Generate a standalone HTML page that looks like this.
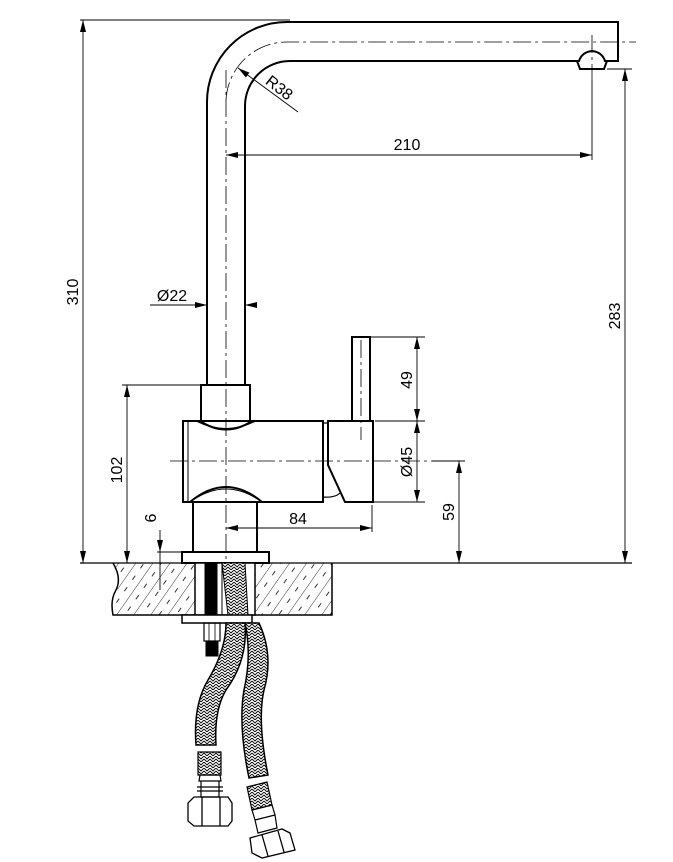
<!DOCTYPE html>
<html><head><meta charset="utf-8"><style>html,body{margin:0;padding:0;background:#fff}svg{display:block}</style></head><body>
<svg width="673" height="862" viewBox="0 0 673 862" xmlns="http://www.w3.org/2000/svg" font-family="Liberation Sans, sans-serif" font-size="16">
<defs>
<pattern id="hatch" width="14" height="14" patternUnits="userSpaceOnUse" patternTransform="rotate(35)">
<line x1="0" y1="0" x2="0" y2="14" stroke="#000" stroke-width="0.8"/>
<line x1="7" y1="2" x2="7" y2="7" stroke="#000" stroke-width="0.8"/>
</pattern>
<pattern id="braid" width="6" height="6" patternUnits="userSpaceOnUse">
<rect width="6" height="6" fill="#fff"/>
<path d="M0 0 L3 3 L6 0 M0 3 L3 6 L6 3" stroke="#000" stroke-width="0.9" fill="none"/>
</pattern>
<marker id="a" markerWidth="12" markerHeight="6" refX="12" refY="3" orient="auto" markerUnits="userSpaceOnUse"><path d="M0 0 L12 3 L0 6z" fill="#000"/></marker>
<marker id="b" markerWidth="12" markerHeight="6" refX="0" refY="3" orient="auto" markerUnits="userSpaceOnUse"><path d="M12 0 L0 3 L12 6z" fill="#000"/></marker>
</defs>
<g fill="none" stroke="#000">
<g stroke-width="0.8" stroke-dasharray="18,4,3,4">
<path d="M226 70 L226 660"/>
<path d="M226 100 A61 61 0 0 1 288 42 L636 42"/>
<path d="M592 35 L592 80"/>
<path d="M170 461 L465 461"/>
<path d="M361 340 L361 440"/>
</g>
<g stroke-width="2">
<path d="M207 385 L207 102 A80 80 0 0 1 287 22 L618 22 L618 61 L607 61"/>
<path d="M245 385 L245 106 A45 45 0 0 1 290 61 L577 61"/>
<path d="M579 61 Q582 52 592 51 Q602 52 605 61 L607 61 L604 69 L580 69 L577 61 Z"/>
<path d="M201 420 L201 385 L250 385 L250 420"/>
<path d="M200 421 Q226 438 252 421"/>
<path d="M196 421 Q226 436 256 421" stroke-width="1"/>
<rect x="183" y="421" width="140" height="81"/>
<path d="M188 421 L188 502" stroke-width="1"/>
<path d="M190 502 Q226 472 262 502 L257 502" />
<path d="M193 500 Q226 478 259 500" stroke-width="1"/>
<path d="M193 502 L193 552 M257 502 L257 552"/>
<rect x="182" y="552" width="87" height="11"/>
<rect x="352" y="337" width="18" height="84"/>
<path d="M328 421 L373 421 L373 502 L345 502 L328 465 Z"/>
<path d="M323 423 L328 423 M323 497 Q335 498 340 493" stroke-width="1.2"/>
</g>
<path d="M113 563 L332 563 L332 615 L113 615 Q122 589 113 563 Z" fill="url(#hatch)" stroke="none"/>
<path d="M80 563 L632 563" stroke-width="1.2"/>
<path d="M332 563 L332 615 L113 615 Q110 600 116 590 Q122 578 113 563" stroke-width="1.5"/>
<rect x="195" y="563" width="60" height="52" fill="#fff" stroke-width="1.5"/>
<rect x="205" y="563" width="12" height="52" fill="#000"/>
<path d="M222 563 L222 615 M217 563 L217 615" stroke-width="1"/>
<path d="M222 563 L245 563 L248 615 L228 615 Z" fill="url(#braid)" stroke-width="1"/>
<rect x="182" y="615" width="70" height="8" fill="#fff" stroke-width="1.5"/>
<rect x="204" y="623" width="16" height="18" stroke-width="1.2"/>
<path d="M209 623 L209 641 M215 623 L215 641" stroke-width="0.8"/>
<rect x="206" y="641" width="12" height="15" fill="#000"/>
<path d="M226 623 L245 623 Q248 660 226 690 Q214 710 216 745 L196 745 Q193 705 208 680 Q226 650 226 623 Z" fill="url(#braid)" stroke-width="1.5"/>
<path d="M245 623 L259 623 Q274 655 264 690 Q257 720 268 775 L249 778 Q238 725 244 690 Q252 655 245 623 Z" fill="url(#braid)" stroke-width="1.5"/>
<path d="M198 752 L221 752 L221 775 L198 775 Z" fill="url(#braid)" stroke-width="1.2"/>
<path d="M200 775 L220 775 L221 781 L199 781 Z M201 781 L219 781 L219 797 L201 797 Z M197 787 L223 787 M197 791 L223 791" stroke-width="1.2"/>
<path d="M194 797 L228 797 L232 803 L232 821 L228 826 L194 826 L188 821 L188 803 Z M202 797 L202 826 M220 797 L220 826" stroke-width="1.3"/>
<path d="M247 787 L267 782 L272 805 L252 810 Z" fill="url(#braid)" stroke-width="1.2"/>
<path d="M252 810 L272 805 L275 815 L255 820 Z M255 820 L275 815 L277 828 L258 833 Z" stroke-width="1.2"/>
<path d="M250 838 L282 829 L290 833 L295 850 L262 858 L252 853 Z M262 835 L268 856 M278 831 L284 852" stroke-width="1.3"/>
<g stroke-width="0.9">
<path d="M80 20 L290 20"/>
<path d="M83 20 L83 563" marker-start="url(#b)" marker-end="url(#a)"/>
<path d="M607 69 L632 69"/>
<path d="M625 69 L625 563" marker-start="url(#b)" marker-end="url(#a)"/>
<path d="M226 155 L592 155" marker-start="url(#b)" marker-end="url(#a)"/>
<path d="M592 80 L592 160"/>
<path d="M238 68 L298 112" marker-start="url(#b)"/>
<path d="M150 305 L207 305" marker-end="url(#a)"/>
<path d="M257 305 L245 305" marker-end="url(#a)"/>
<path d="M122 385 L200 385"/>
<path d="M127 385 L127 563" marker-start="url(#b)" marker-end="url(#a)"/>
<path d="M358 337 L425 337 M375 421 L425 421 M373 502 L425 502"/>
<path d="M417 337 L417 421" marker-start="url(#b)" marker-end="url(#a)"/>
<path d="M417 421 L417 502" marker-start="url(#b)" marker-end="url(#a)"/>
<path d="M432 461 L465 461"/>
<path d="M459 461 L459 563" marker-start="url(#b)" marker-end="url(#a)"/>
<path d="M226 528 L372 528" marker-start="url(#b)" marker-end="url(#a)"/>
<path d="M372 505 L372 532"/>
<path d="M160 530 L160 552" marker-end="url(#a)"/>
<path d="M157 552 L182 552 M160 552 L160 590"/>
</g>
</g>
<g fill="#000">
<text x="407" y="150" text-anchor="middle">210</text>
<text transform="translate(78,292) rotate(-90)" text-anchor="middle">310</text>
<text transform="translate(620,316) rotate(-90)" text-anchor="middle">283</text>
<text transform="translate(276,92) rotate(38)" text-anchor="middle">R38</text>
<text x="172" y="301" text-anchor="middle">Ø22</text>
<text transform="translate(412,380) rotate(-90)" text-anchor="middle">49</text>
<text transform="translate(412,462) rotate(-90)" text-anchor="middle">Ø45</text>
<text transform="translate(454,512) rotate(-90)" text-anchor="middle">59</text>
<text transform="translate(122,470) rotate(-90)" text-anchor="middle">102</text>
<text x="298" y="524" text-anchor="middle">84</text>
<text transform="translate(156,518) rotate(-90)" text-anchor="middle">6</text>
</g>
</svg>
</body></html>
